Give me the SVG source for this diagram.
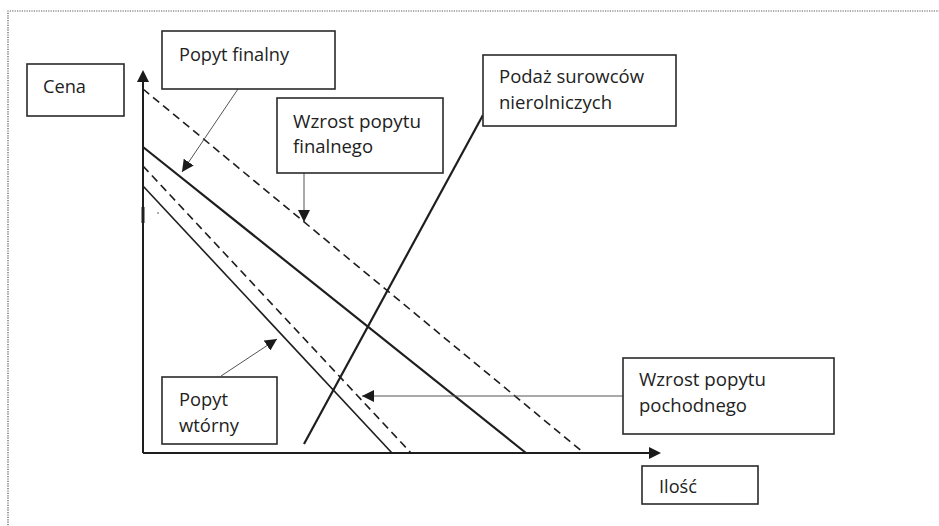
<svg xmlns="http://www.w3.org/2000/svg" width="939" height="526" viewBox="0 0 939 526">
  <style>
    .frame { fill: none; stroke: #555; stroke-width: 1.2; stroke-dasharray: 1.2 1.2; }
    .box rect { fill: #fff; stroke: #2a2a2a; stroke-width: 1.6; }
    .box text { font-family: "Open Sans", "Noto Sans", sans-serif; font-size: 19px; fill: #222; }
    .axis { stroke: #1e1e1e; stroke-width: 2; fill: none; }
    .curve { stroke: #1e1e1e; fill: none; }
    .thick { stroke-width: 2.2; }
    .thin { stroke-width: 1.6; }
    .dash { stroke-width: 1.6; stroke-dasharray: 8 5; }
    .pointer { stroke: #555; stroke-width: 1; fill: none; marker-end: url(#head); }
  </style>
  <defs>
    <marker id="head" viewBox="0 0 12 12" refX="12" refY="6" markerWidth="12" markerHeight="12" markerUnits="userSpaceOnUse" orient="auto">
      <path d="M0,0 L12,6 L0,12 Z" fill="#1a1a1a"/>
    </marker>
    <marker id="axhead" viewBox="0 0 12 12" refX="12" refY="6" markerWidth="12" markerHeight="12" markerUnits="userSpaceOnUse" orient="auto">
      <path d="M0,0 L12,6 L0,12 Z" fill="#1a1a1a"/>
    </marker>
  </defs>

  <rect width="939" height="526" fill="#fff"/>
  <!-- dotted page frame -->
  <path class="frame" d="M8,530 L8,11 L945,11"/>

  <!-- axes -->
  <g id="axes">
    <path class="axis" d="M143,453 L143,82"/>
    <path d="M143,70 L149,82 L137,82 Z" fill="#1a1a1a"/>
    <path class="axis" d="M143,453 L649,453"/>
    <path d="M661,453 L649,447 L649,459 Z" fill="#1a1a1a"/>
    <path d="M143,207 L143,223" stroke="#1e1e1e" stroke-width="3"/>
    <circle cx="158" cy="213" r="0.8" fill="#444"/>
  </g>

  <!-- demand and supply curves -->
  <g id="curves">
    <path class="curve dash" d="M143,89 L584,453"/>
    <path class="curve thick" d="M143,147 L526,453"/>
    <path class="curve dash" d="M143,166 L411,453"/>
    <path class="curve thin" d="M143,186 L392,453"/>
    <path class="curve thick" d="M304,444 L483,115"/>
  </g>

  <!-- label pointers -->
  <g id="connectors">
    <path class="pointer" d="M238,89 L182,172"/>
    <path class="pointer" d="M304,173 L304,222"/>
    <path class="pointer" d="M221,376 L277,339"/>
    <path class="pointer" d="M623,396 L362,396"/>
  </g>

  <g id="cena" class="box">
    <rect x="27" y="64" width="97" height="52"/>
    <text x="43" y="93" textLength="43" lengthAdjust="spacingAndGlyphs">Cena</text>
  </g>

  <g id="popyt-finalny" class="box">
    <rect x="162" y="31" width="173" height="58"/>
    <text x="179" y="61" textLength="110" lengthAdjust="spacingAndGlyphs">Popyt finalny</text>
  </g>

  <g id="wzrost-finalnego" class="box">
    <rect x="277" y="98" width="166" height="75"/>
    <text x="293" y="128" textLength="128" lengthAdjust="spacingAndGlyphs">Wzrost popytu</text>
    <text x="293" y="153" textLength="80" lengthAdjust="spacingAndGlyphs">finalnego</text>
  </g>

  <g id="podaz" class="box">
    <rect x="483" y="55" width="193" height="71"/>
    <text x="499" y="83" textLength="145" lengthAdjust="spacingAndGlyphs">Podaż surowców</text>
    <text x="499" y="109" textLength="113" lengthAdjust="spacingAndGlyphs">nierolniczych</text>
  </g>

  <g id="popyt-wtorny" class="box">
    <rect x="162" y="377" width="115" height="67"/>
    <text x="179" y="406" textLength="49" lengthAdjust="spacingAndGlyphs">Popyt</text>
    <text x="179" y="432" textLength="60" lengthAdjust="spacingAndGlyphs">wtórny</text>
  </g>

  <g id="wzrost-pochodnego" class="box">
    <rect x="623" y="358" width="211" height="76"/>
    <text x="639" y="386" textLength="127" lengthAdjust="spacingAndGlyphs">Wzrost popytu</text>
    <text x="639" y="412" textLength="108" lengthAdjust="spacingAndGlyphs">pochodnego</text>
  </g>

  <g id="ilosc" class="box">
    <rect x="642" y="466" width="116" height="38"/>
    <text x="659" y="493" textLength="38" lengthAdjust="spacingAndGlyphs">Ilość</text>
  </g>
</svg>
